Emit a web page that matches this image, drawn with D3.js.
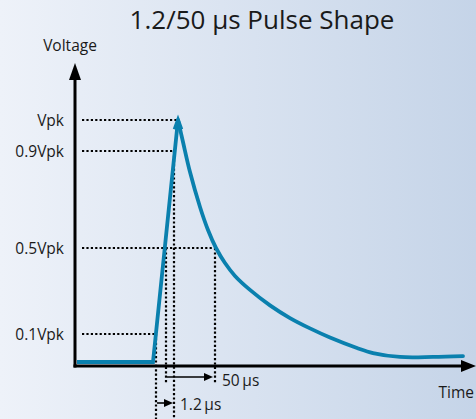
<!DOCTYPE html>
<html>
<head>
<meta charset="utf-8">
<script src="https://cdn.jsdelivr.net/npm/d3@7"></script>
<style>
html,body{margin:0;padding:0;}
svg{display:block;}
text{font-family:"Open Sans","Noto Sans",sans-serif;fill:#1a1a1a;}
</style>
</head>
<body>
<script>
// ---- data ----
const title = "1.2/50 \u00b5s Pulse Shape";
const yAxisLabel = "Voltage";
const xAxisLabel = "Time";
const levelLabels = ["0.1Vpk", "0.5Vpk", "0.9Vpk", "Vpk"];
const levelValues = [0.1, 0.5, 0.9, 1.0];
// time at which each level is reached (reference marks)
const levelCrossT = [20.25, 35, 24.75, 25.75];
// pulse shape (time in arbitrary units, voltage as fraction of Vpk)
const pulseRiseT = [0.5, 19.5, 25.75];
const pulseRiseV = [0, 0, 1.0];
const pulseDecayT = [25.75, 27, 28.75, 31.25, 33.25, 35.25, 37.5, 40, 43.75, 48.75, 53.75, 58.75, 63.75, 70.5, 74.5, 81.25, 89.5, 97];
const pulseDecayV = [1.0, 0.929, 0.813, 0.669, 0.574, 0.5, 0.43, 0.37, 0.305, 0.233, 0.174, 0.126, 0.0875, 0.05, 0.032, 0.018, 0.018, 0.021];
// measurement markers
const frontT = [20.25, 24.75];      // 10% -> 90% on the front
const frontLabel = "1.2\u2009\u00b5s";
const halfT = [22.75, 35];          // 50% front -> 50% tail
const halfLabel = "50\u2009\u00b5s";

// ---- layout ----
const W = 476, H = 419;
const svg = d3.select("body").append("svg").attr("width", W).attr("height", H);

const defs = svg.append("defs");
const grad = defs.append("linearGradient").attr("id", "bg").attr("x1", "0%").attr("y1", "0%").attr("x2", "100%").attr("y2", "0%");
grad.append("stop").attr("offset", "0%").attr("stop-color", "#eef2f9");
grad.append("stop").attr("offset", "100%").attr("stop-color", "#c5d4e8");
svg.append("rect").attr("width", W).attr("height", H).attr("fill", "url(#bg)");

const x = d3.scaleLinear().domain([0, 100]).range([75, 475]);
const y = d3.scaleLinear().domain([0, 0.1, 0.5, 0.9, 1.0]).range([362, 334, 248, 151, 120]);

const axisY = 366, axisX = x(0);

// titles
svg.append("text").attr("x", 262).attr("y", 29).attr("text-anchor", "middle")
  .style("font-size", "26px").text(title);
svg.append("text").attr("x", 70).attr("y", 51).attr("text-anchor", "middle")
  .style("font-size", "15.5px").text(yAxisLabel);
svg.append("text").attr("x", 474).attr("y", 398).attr("text-anchor", "end")
  .style("font-size", "15.5px").text(xAxisLabel);

// dotted guides
function dline(x1, y1, x2, y2) {
  svg.append("line").attr("x1", x1).attr("y1", y1).attr("x2", x2).attr("y2", y2)
    .attr("stroke", "#000").attr("stroke-width", 2.2).attr("stroke-dasharray", "2.2,2.2");
}
levelValues.forEach((v, i) => {
  dline(axisX + 7, y(v), x(levelCrossT[i]), y(v));
  svg.append("text").attr("x", 64).attr("y", y(v) + 6).attr("text-anchor", "end")
    .style("font-size", "15.5px").text(levelLabels[i]);
});
// verticals for front (10% and 90%) going to bottom
dline(x(frontT[0]), y(0.1), x(frontT[0]), H);
dline(x(frontT[1]), y(0.9), x(frontT[1]), H);
// verticals for 50% points
dline(x(halfT[0]), y(0.5), x(halfT[0]), 383);
dline(x(halfT[1]), y(0.5), x(halfT[1]), 383);

// arrows
function arrow(xa, xb, yy) {
  svg.append("line").attr("x1", xa).attr("y1", yy).attr("x2", xb - 7).attr("y2", yy)
    .attr("stroke", "#000").attr("stroke-width", 1.6);
  svg.append("path").attr("d", `M${xb},${yy}L${xb - 9},${yy - 4}L${xb - 9},${yy + 4}Z`).attr("fill", "#000");
}
arrow(x(halfT[0]) + 1, x(halfT[1]) - 2, 377);
svg.append("text").attr("x", x(halfT[1]) + 7).attr("y", 386).style("font-size", "15.5px").text(halfLabel);
arrow(x(frontT[0]) + 1, x(frontT[1]) - 1, 403);
svg.append("text").attr("x", x(frontT[1]) + 6).attr("y", 410).style("font-size", "15.5px").text(frontLabel);

// pulse
const line = d3.line().x(d => x(d[0])).y(d => y(d[1]));
const rise = pulseRiseT.map((t, i) => [t, pulseRiseV[i]]);
const decay = pulseDecayT.map((t, i) => [t, pulseDecayV[i]]);
const pulseColor = "#0a80ae";
svg.append("path").attr("d", line.curve(d3.curveLinear)(rise)).attr("fill", "none")
  .attr("stroke", pulseColor).attr("stroke-width", 3.8).attr("stroke-linejoin", "miter");
svg.append("path").attr("d", line.curve(d3.curveCatmullRom.alpha(0.5))(decay)).attr("fill", "none")
  .attr("stroke", pulseColor).attr("stroke-width", 3.8).attr("stroke-linecap", "round");
svg.append("path").attr("d", `M${x(24.9)},${y(0.97)}L${x(25.75)},${y(1)}L${x(26.6)},${y(0.97)}`)
  .attr("fill", "none").attr("stroke", pulseColor).attr("stroke-width", 3.8).attr("stroke-linejoin", "miter");

// axes
svg.append("line").attr("x1", axisX).attr("y1", 78).attr("x2", axisX).attr("y2", axisY + 1.5)
  .attr("stroke", "#000").attr("stroke-width", 3);
svg.append("path").attr("d", `M${axisX},63L${axisX - 6},80L${axisX + 6},80Z`).attr("fill", "#000");
svg.append("line").attr("x1", axisX - 1.5).attr("y1", axisY).attr("x2", 464).attr("y2", axisY)
  .attr("stroke", "#000").attr("stroke-width", 3);
svg.append("path").attr("d", `M476,${axisY}L461,${axisY - 6}L461,${axisY + 6}Z`).attr("fill", "#000");
</script>
</body>
</html>
